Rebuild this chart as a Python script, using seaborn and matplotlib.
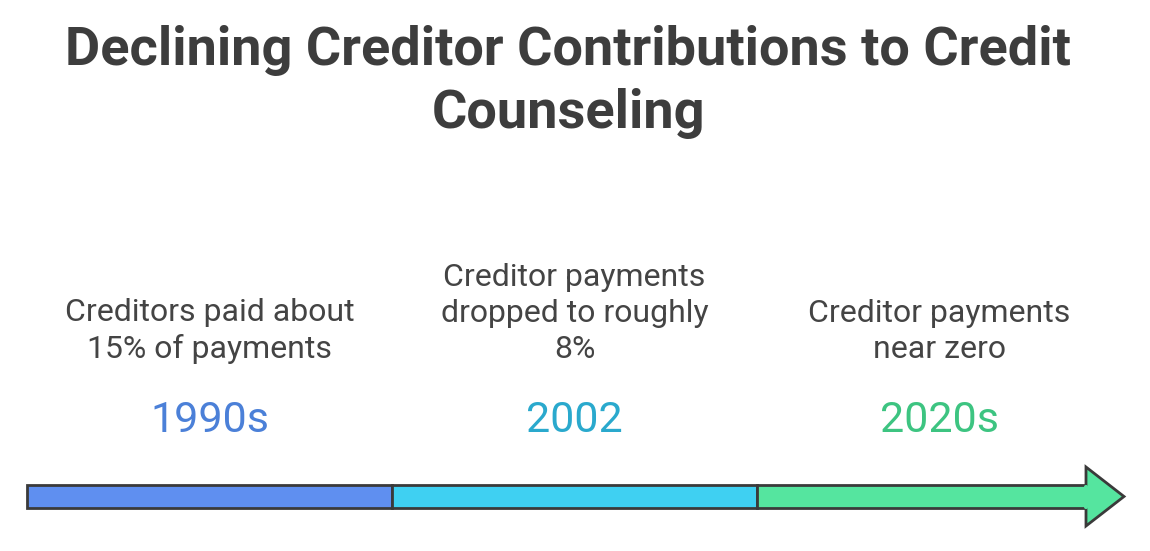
import matplotlib
matplotlib.use("Agg")
import matplotlib.pyplot as plt
import seaborn as sns
from matplotlib.patches import Polygon

periods = ["1990s", "2002", "2020s"]
descriptions = ["Creditors paid about\n15% of payments",
                "Creditor payments\ndropped to roughly\n8%",
                "Creditor payments\nnear zero"]
bar_colors = ["#5f8ff0", "#3fd0f2", "#55e59f"]
label_colors = ["#4b80d8", "#2aa9cd", "#3dc481"]
title = "Declining Creditor Contributions to Credit\nCounseling"

sns.set_theme(style="white")
plt.rcParams['font.family'] = ['Roboto', 'DejaVu Sans']

fig = plt.figure(figsize=(11.5, 5.51), dpi=100)
ax = fig.add_axes([0, 0, 1, 1])
ax.set_xlim(0, 1150)
ax.set_ylim(551, 0)
ax.axis("off")

x0, seg = 27, 365
edge = "#3a3a3a"
for i, p in enumerate(periods):
    left = x0 + i * seg
    width = seg if i < 2 else 1088 - left
    ax.barh(496.5, width, left=left, height=23, color=bar_colors[i],
            edgecolor=edge, linewidth=2, zorder=2)
    cx = x0 + i * seg + seg / 2
    ax.text(cx, 420, p, ha="center", va="center", fontsize=31, color=label_colors[i])
    ax.text(cx, 364, descriptions[i], ha="center", va="bottom", fontsize=23,
            color="#444444", linespacing=1.3)
ax.add_patch(Polygon([[1086, 485], [1086, 467], [1124, 496.5], [1086, 526], [1086, 508]],
                     closed=True, facecolor=bar_colors[2], edgecolor=edge, linewidth=2,
                     zorder=3, joinstyle="miter"))
ax.plot([1086, 1086], [486.5, 506.5], color=bar_colors[2], lw=3, zorder=4)
ax.text(568, 82, title, ha="center", va="center", fontsize=39, fontweight="bold",
        color="#3d3d3d", linespacing=1.3)

fig.savefig("out.png", dpi=100, facecolor="white")
